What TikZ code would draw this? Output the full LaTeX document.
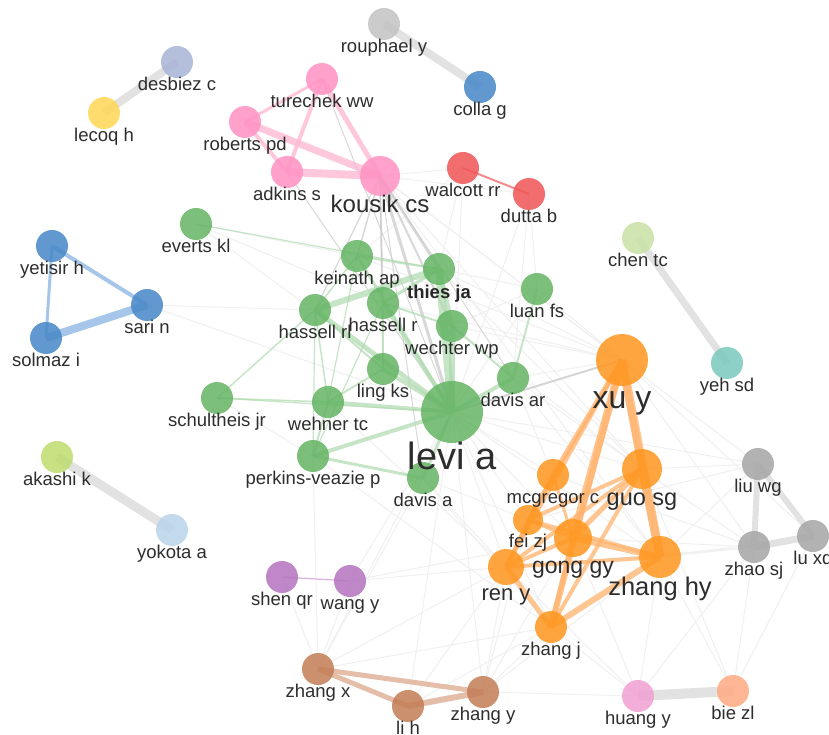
\documentclass[tikz,border=0pt]{standalone}
\usepackage{fontspec}
\setmainfont{Liberation Sans}
\usetikzlibrary{backgrounds}
\pgfdeclarelayer{fg}
\pgfdeclarelayer{canvas}
\pgfsetlayers{canvas,background,main,fg}
\definecolor{cGreen}{RGB}{100,180,100}
\definecolor{cPink}{RGB}{255,145,195}
\definecolor{cOrange}{RGB}{255,150,30}
\definecolor{cRed}{RGB}{240,85,85}
\definecolor{cBlue}{RGB}{70,135,200}
\definecolor{cGrayA}{RGB}{195,195,195}
\definecolor{cGrayB}{RGB}{165,165,165}
\definecolor{cLav}{RGB}{168,180,215}
\definecolor{cYellow}{RGB}{255,215,85}
\definecolor{cChen}{RGB}{200,225,165}
\definecolor{cYeh}{RGB}{120,200,190}
\definecolor{cAkashi}{RGB}{190,220,110}
\definecolor{cYokota}{RGB}{185,212,235}
\definecolor{cPurple}{RGB}{180,115,190}
\definecolor{cBrown}{RGB}{195,125,85}
\definecolor{cHuang}{RGB}{240,160,210}
\definecolor{cBie}{RGB}{255,170,130}
\definecolor{eGray}{RGB}{226,226,226}
\definecolor{eFaint}{RGB}{240,240,240}
\definecolor{eMid}{RGB}{200,200,200}
\definecolor{ePink}{RGB}{255,185,212}
\definecolor{eOrange}{RGB}{255,180,110}
\definecolor{eGreen}{RGB}{175,218,175}
\definecolor{eBlue}{RGB}{165,198,232}
\definecolor{eBrown}{RGB}{228,190,168}
\definecolor{eRed}{RGB}{245,140,140}
\definecolor{ePurple}{RGB}{220,175,225}
\definecolor{lblc}{RGB}{45,45,45}
\tikzset{
  nd/.style={circle, inner sep=0pt, draw=none, fill opacity=0.85},
  lbl/.style={anchor=base, text=lblc, inner sep=0pt},
  faint/.style={draw=eFaint, line width=1pt},
  midg/.style={draw=eMid, line width=#1, draw opacity=0.7},
  grayE/.style={draw=eGray, line width=#1},
  pinkE/.style={draw=ePink, line width=#1, draw opacity=0.8},
  orE/.style={draw=eOrange, line width=#1, draw opacity=0.75},
  grE/.style={draw=eGreen, line width=#1, draw opacity=0.7},
  blE/.style={draw=eBlue, line width=#1},
  brE/.style={draw=eBrown, line width=#1},
  rdE/.style={draw=eRed, line width=#1},
  puE/.style={draw=ePurple, line width=#1},
}
% name, x, y, radius, colour, label, font size
\newcommand\vnode[7]{%
  \node[nd, fill=#5, minimum size={2*#4pt}] (#1) at (#2,#3) {};
  \pgfmathsetmacro\lby{#3+#4+0.7*#7}%
  \begin{pgfonlayer}{fg}
  \node[lbl, font=\fontsize{#7pt}{#7pt}\selectfont] (#1-l) at (#2,\lby) {#6};
  \end{pgfonlayer}%
}
\newcommand\ed[3]{\draw[#1] (#2.center) -- (#3.center);}
\begin{document}
\begin{tikzpicture}[x=1pt,y=-1pt]
\useasboundingbox (0,0) rectangle (829,735);
\begin{pgfonlayer}{canvas}
\fill[white] (0,0) rectangle (829,735);
\end{pgfonlayer}
% nodes
\vnode{rouphael}{384}{24}{16}{cGrayA}{rouphael y}{18.5}
\vnode{colla}{480}{87}{16}{cBlue}{colla g}{18.5}
\vnode{desbiez}{177}{62}{16}{cLav}{desbiez c}{18.5}
\vnode{lecoq}{104}{113}{16}{cYellow}{lecoq h}{18.5}
\vnode{turechek}{322}{79}{16}{cPink}{turechek ww}{18.5}
\vnode{roberts}{245}{122}{16}{cPink}{roberts pd}{18.5}
\vnode{adkins}{287}{172}{16}{cPink}{adkins s}{18.5}
\vnode{kousik}{380}{176}{20}{cPink}{kousik cs}{24}
\vnode{walcott}{463}{168}{16}{cRed}{walcott rr}{18.5}
\vnode{dutta}{529}{194}{16}{cRed}{dutta b}{18.5}
\vnode{everts}{196}{224}{16}{cGreen}{everts kl}{18.5}
\vnode{chen}{638}{238}{16}{cChen}{chen tc}{18.5}
\vnode{yetisir}{52}{246}{16}{cBlue}{yetisir h}{18.5}
\vnode{keinath}{357}{256}{16}{cGreen}{keinath ap}{18.5}
\vnode{luan}{537}{289}{16}{cGreen}{luan fs}{18.5}
\vnode{sari}{147}{305}{16}{cBlue}{sari n}{18.5}
\vnode{hassellrl}{315}{310}{16}{cGreen}{hassell rl}{18.5}
\vnode{hassellr}{383}{303}{16}{cGreen}{hassell r}{18.5}
\vnode{wechter}{452}{326}{16}{cGreen}{wechter wp}{18.5}
\vnode{solmaz}{46}{338}{16}{cBlue}{solmaz i}{18.5}
\vnode{xuy}{622}{360}{26}{cOrange}{xu y}{32}
\vnode{ling}{383}{369}{16}{cGreen}{ling ks}{18.5}
\vnode{davisar}{513}{378}{16}{cGreen}{davis ar}{18.5}
\vnode{yeh}{727}{363}{16}{cYeh}{yeh sd}{18.5}
\vnode{schultheis}{217}{398}{16}{cGreen}{schultheis jr}{18.5}
\vnode{wehner}{328}{402}{16}{cGreen}{wehner tc}{18.5}
\vnode{levi}{452}{412}{31}{cGreen}{levi a}{38}
\vnode{perkins}{313}{456}{16}{cGreen}{perkins-veazie p}{18.5}
\vnode{davisa}{423}{478}{16}{cGreen}{davis a}{18.5}
\vnode{akashi}{57}{457}{16}{cAkashi}{akashi k}{18.5}
\vnode{yokota}{172}{530}{16}{cYokota}{yokota a}{18.5}
\vnode{liuwg}{758}{464}{16}{cGrayB}{liu wg}{18.5}
\vnode{guo}{642}{469}{20}{cOrange}{guo sg}{23.5}
\vnode{mcgregor}{553}{475}{16}{cOrange}{mcgregor c}{18.5}
\vnode{fei}{528}{520}{15}{cOrange}{fei zj}{18.5}
\vnode{gong}{573}{538}{19}{cOrange}{gong gy}{23}
\vnode{zhanghy}{660}{557}{21}{cOrange}{zhang hy}{25.5}
\vnode{zhao}{754}{547}{16}{cGrayB}{zhao sj}{18.5}
\vnode{luxq}{813}{536}{16}{cGrayB}{lu xq}{18.5}
\vnode{reny}{506}{567}{18}{cOrange}{ren y}{22}
\vnode{shen}{282}{577}{16}{cPurple}{shen qr}{18.5}
\vnode{wangy}{350}{581}{16}{cPurple}{wang y}{18.5}
\vnode{zhangj}{551}{627}{16}{cOrange}{zhang j}{18.5}
\vnode{zhangx}{318}{669}{16}{cBrown}{zhang x}{18.5}
\vnode{lih}{408}{706}{16}{cBrown}{li h}{18.5}
\vnode{zhangy}{483}{692}{16}{cBrown}{zhang y}{18.5}
\vnode{huang}{638}{696}{16}{cHuang}{huang y}{18.5}
\vnode{bie}{733}{691}{16}{cBie}{bie zl}{18.5}
% thies ja (bold label)
\node[nd, fill=cGreen, minimum size=32pt] (thies) at (439,269) {};
\begin{pgfonlayer}{fg}
\node[lbl, font=\fontsize{18.5pt}{18.5pt}\selectfont\bfseries, text=black!85] (thies-l) at (439,298) {thies ja};
\end{pgfonlayer}
% edges
\begin{pgfonlayer}{background}
% faint gray links
\foreach \a/\b in {sari/levi, everts/levi, everts/keinath, walcott/levi, walcott/kousik,
  dutta/davisar, dutta/levi, dutta/kousik, walcott/thies, xuy/levi, xuy/wechter, xuy/thies, xuy/davisar,
  xuy/luan, xuy/hassellr, xuy/kousik, xuy/liuwg, xuy/zhao, xuy/luxq, zhanghy/liuwg, zhanghy/zhao,
  zhanghy/luxq, zhanghy/bie, zhanghy/huang, guo/liuwg, guo/zhao, gong/zhao, luxq/bie, zhao/huang,
  zhangy/levi, zhangy/reny, zhangy/zhangj, zhangy/gong, zhangy/fei, zhangy/zhanghy, zhangy/huang,
  zhangx/wangy, zhangx/shen, zhangx/levi, zhangx/davisa, zhangx/perkins, zhangx/reny, zhangx/zhangj,
  wangy/levi, wangy/reny, wangy/gong, lih/reny, lih/zhangj, lih/levi, huang/zhangj, huang/gong,
  huang/reny, bie/guo, bie/zhao, levi/guo, levi/zhanghy, levi/reny, levi/gong, levi/fei, levi/mcgregor,
  levi/zhangj, levi/liuwg, davisar/guo, davisar/mcgregor, wechter/guo, thies/guo, kousik/guo,
  kousik/xuy, kousik/zhanghy, luan/levi, luan/wechter, luan/thies, schultheis/perkins, perkins/zhangj,
  davisa/reny, davisa/zhangj, davisa/fei, wehner/reny, sari/hassellrl, everts/hassellr,
  dutta/luan, walcott/keinath, keinath/xuy, davisar/zhanghy, mcgregor/zhao, fei/liuwg, reny/zhao}
  {\ed{faint}{\a}{\b}}
% medium gray links from kousik cs
\ed{midg=3pt}{kousik}{levi}
\ed{midg=2.5pt}{kousik}{thies}
\ed{midg=2pt}{kousik}{wechter}
\ed{midg=1.5pt}{kousik}{keinath}
\ed{midg=1.5pt}{kousik}{hassellr}
\ed{midg=1.2pt}{kousik}{ling}
\ed{midg=1.2pt}{kousik}{hassellrl}
\ed{midg=1pt}{kousik}{davisar}
\ed{midg=1pt}{kousik}{davisa}
\ed{midg=2pt}{levi}{xuy}
\ed{midg=1pt}{adkins}{levi}
\ed{midg=1pt}{turechek}{levi}
% thick gray pairs
\ed{grayE=8pt}{rouphael}{colla}
\ed{grayE=8pt}{desbiez}{lecoq}
\ed{grayE=9pt}{akashi}{yokota}
\ed{grayE=7pt}{chen}{yeh}
\ed{grayE=10pt}{huang}{bie}
\ed{grayE=6pt}{liuwg}{zhao}
\ed{grayE=6pt}{liuwg}{luxq}
\ed{grayE=7pt}{zhao}{luxq}
% pink
\ed{pinkE=3pt}{turechek}{roberts}
\ed{pinkE=4pt}{turechek}{adkins}
\ed{pinkE=5pt}{turechek}{kousik}
\ed{pinkE=4pt}{roberts}{adkins}
\ed{pinkE=7pt}{roberts}{kousik}
\ed{pinkE=8pt}{adkins}{kousik}
% red, blue, purple, brown
\ed{rdE=2pt}{walcott}{dutta}
\ed{blE=4pt}{yetisir}{sari}
\ed{blE=3pt}{yetisir}{solmaz}
\ed{blE=8pt}{solmaz}{sari}
\ed{puE=1.2pt}{shen}{wangy}
\ed{brE=5pt}{zhangx}{lih}
\ed{brE=5pt}{zhangx}{zhangy}
\ed{brE=6pt}{lih}{zhangy}
% orange
\ed{orE=7pt}{xuy}{guo}
\ed{orE=9pt}{xuy}{zhanghy}
\ed{orE=8pt}{xuy}{gong}
\ed{orE=6pt}{xuy}{zhangj}
\ed{orE=5pt}{xuy}{mcgregor}
\ed{orE=4pt}{xuy}{reny}
\ed{orE=3pt}{xuy}{fei}
\ed{orE=8pt}{guo}{zhanghy}
\ed{orE=5pt}{guo}{gong}
\ed{orE=4pt}{guo}{reny}
\ed{orE=4pt}{guo}{fei}
\ed{orE=4pt}{guo}{zhangj}
\ed{orE=6pt}{gong}{zhanghy}
\ed{orE=5pt}{gong}{zhangj}
\ed{orE=4pt}{gong}{reny}
\ed{orE=5pt}{reny}{zhangj}
\ed{orE=6pt}{zhanghy}{zhangj}
\ed{orE=4pt}{reny}{zhanghy}
\ed{orE=4pt}{fei}{zhanghy}
\ed{orE=4pt}{mcgregor}{reny}
\ed{orE=3pt}{mcgregor}{fei}
\ed{orE=3pt}{mcgregor}{gong}
\ed{orE=3pt}{fei}{gong}
\ed{orE=3pt}{fei}{reny}
% green
\ed{grE=8pt}{levi}{thies}
\ed{grE=5pt}{thies}{wechter}
\ed{grE=6pt}{hassellrl}{thies}
\ed{grE=5pt}{hassellrl}{levi}
\ed{grE=3pt}{keinath}{levi}
\ed{grE=2pt}{keinath}{thies}
\ed{grE=4pt}{hassellr}{levi}
\ed{grE=3pt}{hassellr}{thies}
\ed{grE=6pt}{wechter}{levi}
\ed{grE=4pt}{ling}{levi}
\ed{grE=4pt}{wehner}{levi}
\ed{grE=4pt}{perkins}{levi}
\ed{grE=3pt}{perkins}{davisa}
\ed{grE=3pt}{davisa}{levi}
\ed{grE=4pt}{davisar}{levi}
\ed{grE=2pt}{luan}{davisar}
\ed{grE=1.5pt}{schultheis}{wehner}
\ed{grE=1.5pt}{schultheis}{hassellrl}
\ed{grE=1.2pt}{schultheis}{levi}
\ed{grE=1.2pt}{everts}{thies}
\ed{grE=2pt}{hassellrl}{ling}
\ed{grE=2pt}{ling}{wehner}
\ed{grE=2pt}{wehner}{perkins}
\ed{grE=1.5pt}{hassellrl}{wehner}
\ed{grE=1.2pt}{hassellrl}{perkins}
\ed{grE=1.5pt}{keinath}{hassellrl}
\ed{grE=2pt}{ling}{hassellr}
\ed{grE=2pt}{wechter}{davisar}
\ed{grE=2pt}{wechter}{hassellr}
\ed{grE=1.2pt}{keinath}{wehner}
\ed{grE=1.2pt}{hassellr}{perkins}
\end{pgfonlayer}
\end{tikzpicture}
\end{document}
